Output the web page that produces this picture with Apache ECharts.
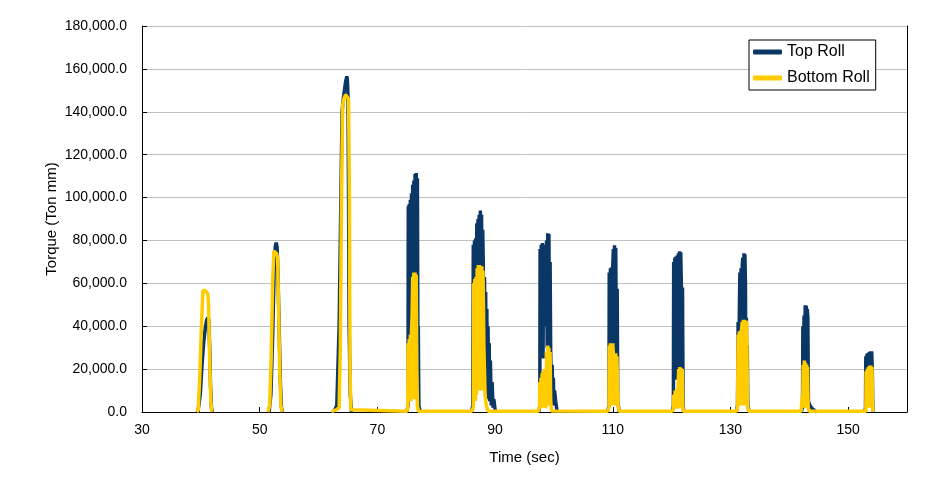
<!DOCTYPE html>
<html>
<head>
<meta charset="utf-8">
<script src="https://cdn.jsdelivr.net/npm/echarts@6/dist/echarts.min.js"></script>
<style>
html,body{margin:0;padding:0;background:#fff;}
#chart{width:928px;height:480px;}
</style>
</head>
<body>
<div id="chart"></div>
<script>
// ---- Data (time in sec, torque in Ton mm); null = no data ----
const topTime = [
  39.5,39.9,40.2,40.5,40.8,41.0,41.2,41.35,41.5,41.65,41.8,41.95, 42.0,
  51.6,51.9,52.2,52.45,52.65,52.8,52.95,53.1,53.3,53.5,53.7,53.85, 54.0,
  62.6,63.1,63.5,63.8,64.0,64.2,64.4,64.6,64.8,64.9,65.0,65.1,65.2,65.4,65.6, 65.7,
  75.0,75.2,75.25,75.3,75.4,75.5,75.6,75.7,75.8,75.9,76.0,76.1,76.2,76.3,76.4,76.5,76.6,76.7,76.8,76.9,76.95,77.05,77.3, 77.4,
  86.0,86.2,86.3,86.4,86.5,86.6,86.7,86.8,86.9,87.0,87.1,87.2,87.3,87.4,87.5,87.6,87.7,87.8,87.9,88.0,88.1,88.2,88.3,88.4,88.5,88.6,88.7,88.8,88.9,89.0,89.1,89.2,89.35,89.5,89.65,89.8,90.0,90.2, 90.3,
  97.4,97.6,97.65,97.75,97.85,97.95,98.05,98.15,98.25,98.35,98.45,98.55,98.65,98.75,98.85,98.95,99.05,99.15,99.25,99.35,99.45,99.5,99.6,99.7,99.8,99.9,100.0,100.1,100.3,100.5,100.8, 100.9,
  109.1,109.35,109.4,109.5,109.6,109.7,109.8,109.9,110.0,110.1,110.2,110.3,110.4,110.5,110.55,110.65,110.75,110.85,111.1, 111.2,
  120.1,120.3,120.35,120.45,120.55,120.65,120.75,120.85,120.95,121.05,121.15,121.25,121.35,121.45,121.55,121.65,121.75,121.85,121.95,122.1, 122.2,
  131.0,131.2,131.3,131.4,131.5,131.6,131.7,131.8,131.9,132.0,132.1,132.2,132.3,132.4,132.45,132.55,132.6,132.7,132.8,132.85,132.95,133.2, 133.3,
  142.0,142.25,142.3,142.4,142.5,142.6,142.7,142.8,142.9,143.0,143.05,143.15,143.25,143.5,143.9,144.4,144.7, 144.8,
  152.8,152.95,153.0,153.1,153.2,153.3,153.4,153.5,153.6,153.7,153.8,153.9,154.0,154.1,154.2
];
const topTorque = [
  0,8000,22000,33000,40000,43000,44000,43000,30000,12000,2000,0, null,
  0,8000,35000,65000,77000,79000,77000,65000,40000,15000,2000,0, null,
  0,3000,40000,100000,140000,146000,150000,154000,156500,155000,148000,100000,40000,8000,0, null,
  0,3000,96000,40000,97000,35000,99000,40000,102000,60000,106000,30000,108000,35000,111000,30000,111500,35000,109000,20000,40000,3000,0, null,
  0,3000,78000,30000,80000,30000,81000,35000,88000,30000,90000,35000,92000,30000,94000,30000,92000,35000,85000,68000,20000,63000,15000,56000,10000,48000,8000,40000,6000,32000,5000,24000,3000,14000,2000,6000,1000,0, null,
  0,3000,76000,25000,78000,25000,78800,25000,78000,40000,60000,57000,60000,80000,30000,83300,30000,83000,30000,70000,28000,28000,5000,22000,4000,16000,3000,10000,5000,1000,0, null,
  0,3000,65000,20000,67000,20000,67500,20000,68000,76000,20000,77800,20000,76500,58000,20000,57500,5000,0, null,
  0,3000,70000,15000,72000,15000,72500,15000,73000,15000,74000,15000,75000,15000,74500,60000,15000,58000,3000,0, null,
  0,3000,42000,10000,45000,65000,10000,67000,10000,68000,72000,10000,74000,10000,73500,60000,10000,44000,10000,31000,3000,0, null,
  0,2000,40000,8000,45000,8000,49800,8000,49500,8000,48000,44000,5000,3000,1500,500,0, null,
  0,2000,26000,5000,27200,5000,27500,5000,28000,5000,28300,5000,28300,20000,0
];

const bottomTime = [
  39.3,39.55,39.8,40.1,40.35,40.7,41.0,41.2,41.3,41.5,41.7,41.85, 41.9,
  51.4,51.7,51.95,52.2,52.4,52.6,52.85,53.05,53.2,53.4,53.6,53.8, 53.9,
  62.2,63.0,63.5,63.7,63.9,64.1,64.3,64.6,64.9,65.1,65.25,65.35,65.5,65.8,
  75.0,75.15,75.2,75.3,75.4,75.5,75.6,75.7,75.8,75.9,76.0,76.1,76.2,76.3,76.4,76.5,76.6,76.7,76.8,77.0,
  86.0,86.3,86.35,86.45,86.55,86.65,86.75,86.85,86.95,87.05,87.15,87.25,87.35,87.45,87.55,87.65,87.75,87.85,87.95,88.1,88.3,88.5,88.8,
  97.3,97.55,97.6,97.7,97.8,97.9,98.0,98.1,98.2,98.3,98.4,98.5,98.7,98.75,98.85,98.95,99.05,99.15,99.25,99.35,99.45,99.6,99.8,
  109.1,109.35,109.4,109.5,109.6,109.7,109.8,109.9,110.0,110.1,110.2,110.3,110.4,110.5,110.6,110.7,110.9,111.1,
  120.1,120.3,120.35,120.5,120.6,120.75,120.85,121.0,121.1,121.2,121.3,121.4,121.5,121.6,121.7,121.8,121.9,122.0,
  131.0,131.2,131.3,131.4,131.5,131.6,131.7,131.8,131.9,132.0,132.1,132.2,132.3,132.4,132.5,132.6,132.7,132.75,132.9,133.1,
  142.0,142.2,142.3,142.35,142.45,142.55,142.65,142.75,142.85,142.95,143.05,143.1,143.2,143.4,
  153.0,153.05,153.15,153.25,153.35,153.45,153.55,153.65,153.75,153.85,153.95,154.05,154.15,154.2
];
const bottomTorque = [
  0,1000,15000,40000,56500,56800,56000,55000,50000,25000,5000,0, null,
  0,3000,25000,60000,75000,75500,74000,72000,50000,20000,3000,0, null,
  300,1000,2000,30000,100000,143000,146000,148000,147500,146000,100000,20000,1000,300,
  300,2000,32000,5000,34000,6000,36000,5000,38000,45000,63000,8000,65000,6000,65000,8000,64000,20000,3000,300,
  300,2000,60000,5000,62000,5000,63000,8000,67000,10000,68500,10000,68500,10000,68000,10000,68000,10000,66000,30000,8000,3000,300,
  300,2000,14000,2000,16000,2000,18000,2000,19000,2000,20000,2000,3000,28000,3000,31000,3000,30000,3000,28000,5000,500,300,
  300,2000,31000,3000,32000,3000,32000,3000,32000,27000,3000,27400,3000,27400,3000,26000,3000,300,
  300,1500,8000,1500,10000,1500,10500,1500,11000,20000,2000,21000,2000,20500,2000,20000,3000,300,
  300,2000,36000,3000,37500,3000,38000,3000,39000,42000,3000,43000,3000,43000,3000,42500,3000,42500,3000,300,
  300,7000,8000,22000,2000,24000,2000,23000,2000,22000,2000,21000,2000,300,
  300,19000,2000,20200,2000,21000,2000,21700,2000,21700,2000,21000,3000,0
];

const xTickMin = 30, xTickMax = 160, xTickStep = 20;
const yTickMin = 0, yTickMax = 180000, yTickStep = 20000;

function pairs(t, v) { return t.map((x, i) => [x, v[i]]); }

const FONT = "'Liberation Sans', Arial, sans-serif";
const chart = echarts.init(document.getElementById('chart'), null, { renderer: 'canvas' });
chart.setOption({
  animation: false,
  backgroundColor: '#ffffff',
  textStyle: { fontFamily: FONT, color: '#000' },
  grid: { left: 142, right: 21, top: 26, bottom: 68, containLabel: false },
  legend: {
    orient: 'vertical',
    left: 749, top: 40,
    padding: [4, 6, 4, 4],
    borderColor: '#000', borderWidth: 1,
    backgroundColor: '#fff',
    itemWidth: 29, itemHeight: 5, itemGap: 10,
    icon: 'roundRect',
    textStyle: { fontFamily: FONT, fontSize: 16, color: '#000' },
    data: ['Top Roll', 'Bottom Roll']
  },
  xAxis: {
    type: 'value', min: xTickMin, max: xTickMax, interval: xTickStep,
    name: 'Time (sec)', nameLocation: 'middle', nameGap: 38, nameMoveOverlap: false,
    nameTextStyle: { fontFamily: FONT, fontSize: 15, color: '#000' },
    axisLine: { show: true, onZero: false, lineStyle: { color: '#000', width: 1 } },
    axisTick: { show: true, inside: true, length: 5, lineStyle: { color: '#000' } },
    axisLabel: { fontFamily: FONT, fontSize: 14, color: '#000', margin: 11, showMaxLabel: false },
    splitLine: { show: false }
  },
  yAxis: [{
    type: 'value', min: yTickMin, max: yTickMax, interval: yTickStep,
    name: 'Torque (Ton mm)', nameLocation: 'middle', nameGap: 83, nameMoveOverlap: false,
    nameTextStyle: { fontFamily: FONT, fontSize: 15, color: '#000' },
    axisLine: { show: true, lineStyle: { color: '#000', width: 1 } },
    axisTick: { show: true, inside: true, length: 5, lineStyle: { color: '#000' } },
    axisLabel: {
      fontFamily: FONT, fontSize: 14, color: '#000', margin: 15,
      formatter: v => v.toLocaleString('en-US', { minimumFractionDigits: 1, maximumFractionDigits: 1 })
    },
    splitLine: { show: true, lineStyle: { color: '#c0c0c0', width: 1 } }
  }, {
    type: 'value', min: yTickMin, max: yTickMax, interval: yTickStep, position: 'right',
    axisLine: { show: true, lineStyle: { color: '#000', width: 1 } },
    axisTick: { show: false }, axisLabel: { show: false }, splitLine: { show: false }
  }],
  series: [{
    name: 'Top Roll', type: 'line', yAxisIndex: 0,
    data: pairs(topTime, topTorque),
    showSymbol: false, symbol: 'none', connectNulls: false,
    itemStyle: { color: '#0b3767' },
    lineStyle: { color: '#0b3767', width: 3.5 },
    z: 2
  }, {
    name: 'Bottom Roll', type: 'line', yAxisIndex: 0,
    data: pairs(bottomTime, bottomTorque),
    showSymbol: false, symbol: 'none', connectNulls: false,
    itemStyle: { color: '#ffcc00' },
    lineStyle: { color: '#ffcc00', width: 3.5 },
    z: 3
  }]
});
</script>
</body>
</html>
